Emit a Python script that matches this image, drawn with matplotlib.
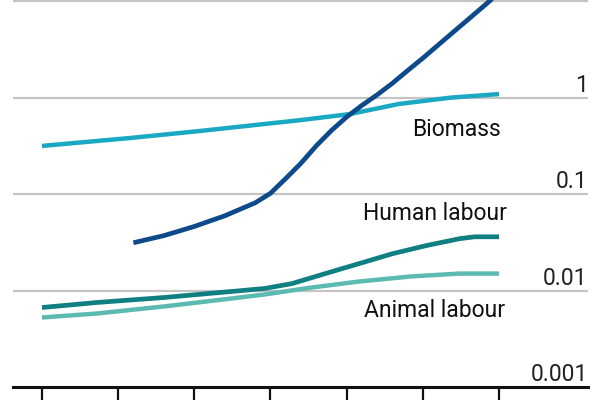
import matplotlib
matplotlib.use("Agg")
import matplotlib.pyplot as plt
import matplotlib.transforms as mt
from matplotlib import font_manager

# ---- data ----
fossil_years = [1880, 1890, 1900, 1910, 1920, 1925, 1930, 1935, 1940, 1945, 1950,
                1955, 1960, 1965, 1970, 1975, 1980, 1985, 1990, 1995, 2000]
fossil_vals = [0.0313, 0.0371, 0.0462, 0.0596, 0.0813, 0.102, 0.145, 0.209, 0.316, 0.457,
               0.631, 0.832, 1.07, 1.41, 1.91, 2.57, 3.51, 4.79, 6.53, 8.91, 12.2]

biomass_years = [1850, 1879, 1902, 1935, 1951, 1967, 1984, 2000]
biomass_vals = [0.316, 0.382, 0.452, 0.586, 0.676, 0.859, 1.00, 1.09]

human_years = [1850, 1868, 1890, 1912, 1923, 1932, 1943, 1954, 1965, 1976, 1987, 1992, 2000]
human_vals = [0.00667, 0.00752, 0.00847, 0.00977, 0.0105, 0.0118, 0.0150, 0.0190,
              0.0241, 0.0292, 0.0345, 0.0361, 0.0361]

animal_years = [1850, 1868, 1890, 1912, 1923, 1938, 1954, 1971, 1987, 2000]
animal_vals = [0.00526, 0.00578, 0.00684, 0.00826, 0.00910, 0.0107, 0.0124, 0.0140,
               0.0150, 0.0150]

x_ticks = [1850, 1875, 1900, 1925, 1950, 1975, 2000]
y_grid = [0.001, 0.01, 0.1, 1, 10]
y_labels = ["0.001", "0.01", "0.1", "1", ""]

series_labels = ["Biomass", "Human labour", "Animal labour"]

# ---- font ----
avail = {f.name for f in font_manager.fontManager.ttflist}
fam = [f for f in ["Roboto", "DejaVu Sans"] if f in avail]
plt.rcParams["font.family"] = fam

fig = plt.figure(figsize=(6, 4), dpi=100)
ax = fig.add_axes([13 / 600, 13 / 400, 575 / 600, 387 / 400])

c_fossil = "#0d4a8a"
c_bio = "#19a9c2"
c_human = "#0f7f81"
c_animal = "#5cbbb1"

for yv in y_grid[1:]:
    ax.axhline(yv, color="#c4c4c4", lw=1.6, zorder=1)

kw = dict(solid_capstyle="butt", solid_joinstyle="round")
ax.plot(animal_years, animal_vals, color=c_animal, lw=3.2, zorder=3, **kw)
ax.plot(human_years, human_vals, color=c_human, lw=3.4, zorder=4, **kw)
ax.plot(biomass_years, biomass_vals, color=c_bio, lw=3.2, zorder=3, **kw)
ax.plot(fossil_years, fossil_vals, color=c_fossil, lw=3.4, zorder=5, **kw)

ax.set_yscale("log")
ax.set_ylim(0.001, 10.3)
ax.set_xlim(1840.5, 2029.2)

for sp in ["top", "left", "right"]:
    ax.spines[sp].set_visible(False)
ax.spines["bottom"].set_linewidth(2.2)
ax.spines["bottom"].set_color("#111111")

ax.set_xticks(x_ticks)
ax.set_xticklabels([])
ax.tick_params(axis="x", direction="out", length=10, width=1.6, color="#111111")
ax.set_yticks([])
ax.yaxis.set_minor_locator(matplotlib.ticker.NullLocator())

trans = mt.blended_transform_factory(ax.transAxes, ax.transData)
for yv, lab in zip(y_grid, y_labels):
    if lab:
        ax.text(0.9995, yv * 1.02, lab, transform=trans, ha="right", va="bottom",
                fontsize=16.5, color="#222222")

ax.text(2000.5, 0.473, series_labels[0], ha="right", va="center", fontsize=16.5, color="#111111")
ax.text(2002.5, 0.0625, series_labels[1], ha="right", va="center", fontsize=16.5, color="#111111")
ax.text(2002, 0.00621, series_labels[2], ha="right", va="center", fontsize=16.5, color="#111111")

fig.savefig("out.png", dpi=100)
